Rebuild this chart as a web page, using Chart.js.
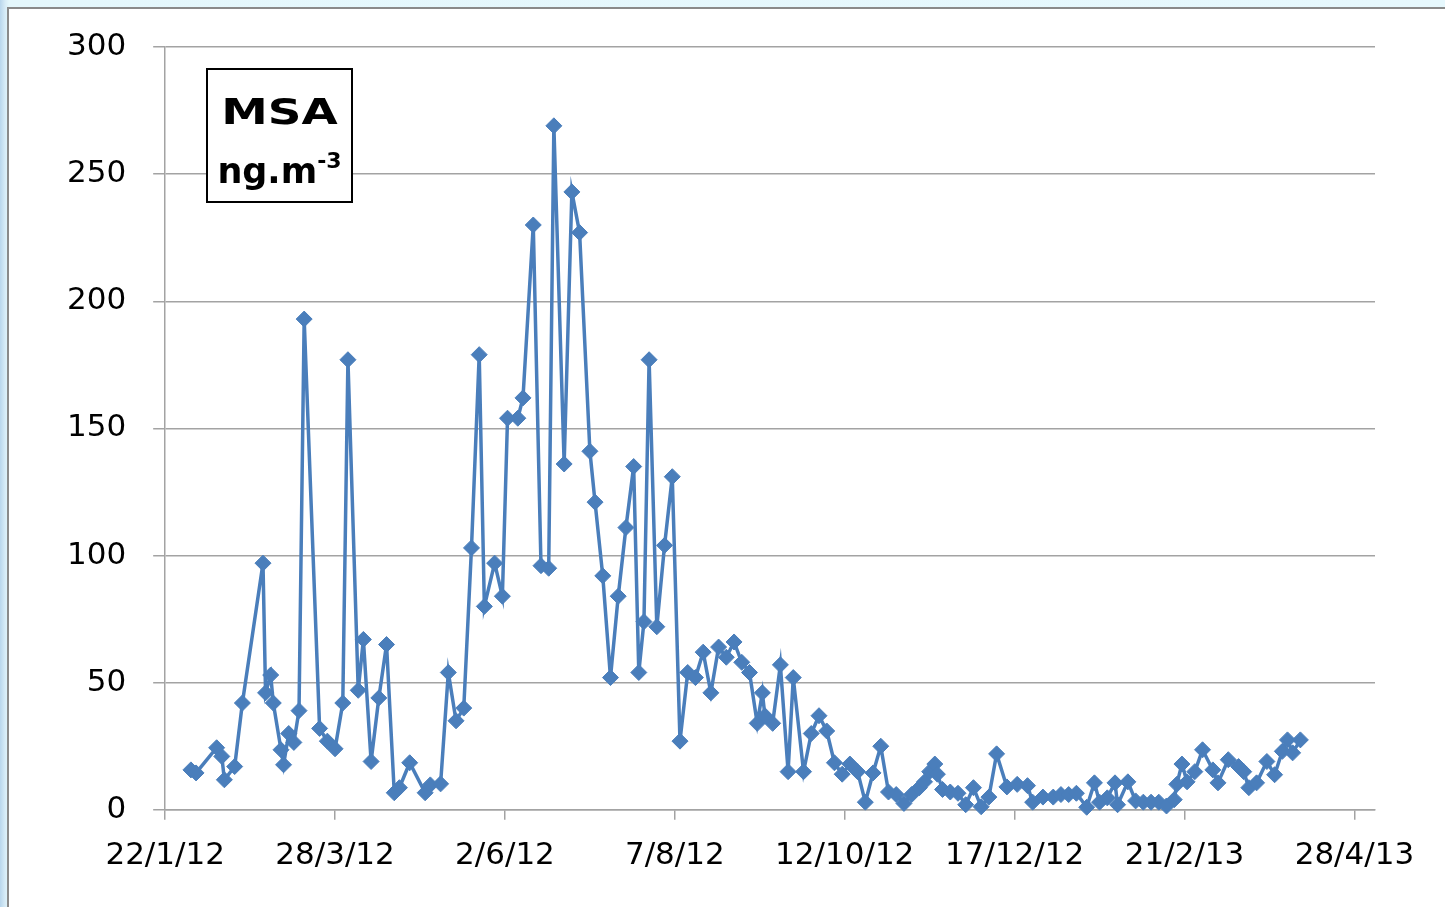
<!DOCTYPE html>
<html>
<head>
<meta charset="utf-8">
<script src="https://cdn.jsdelivr.net/npm/chart.js@4/dist/chart.umd.min.js"></script>
<style>
  html, body { margin: 0; padding: 0; }
  body {
    width: 1445px; height: 907px; overflow: hidden; position: relative;
    background: linear-gradient(to right, #b9d6ec 0px, #d6ebf6 5px, #e4f7fc 9px, #e6f8fd 100%);
  }
  #frame {
    position: absolute; left: 7px; top: 7px; width: 1450px; height: 910px;
    background: #ffffff; border: 2px solid #8a8a8a; box-sizing: border-box;
  }
  #chart { position: absolute; left: 0; top: 0; }
  #label {
    position: absolute; left: 206px; top: 68px; width: 147px; height: 135px;
    box-sizing: border-box; border: 2px solid #000; background: #fff;
    font-family: "DejaVu Sans", sans-serif; font-weight: bold; color: #000;
    text-align: center;
  }
  #label .l1 { position: absolute; left: 0; right: 0; top: 17px; font-size: 36px; line-height: 50px; transform: scaleX(1.3); }
  #label .l2 { position: absolute; left: 0; right: 0; top: 79px; font-size: 35px; line-height: 44px; }
  #label sup { font-size: 22px; vertical-align: 0.7em; line-height: 0; }
</style>
</head>
<body>
<div id="frame"></div>
<canvas id="chart" width="1445" height="907"></canvas>
<div id="label"><div class="l1">MSA</div><div class="l2">ng.m<sup>-3</sup></div></div>
<script>
// Sampling days, counted from 22/1/12
const dayOffsets = [
  10, 12, 20, 22, 23, 27, 30, 38, 39, 41,
  42, 45, 46, 48, 50, 52, 54, 60, 63, 66,
  69, 71, 75, 77, 80, 83, 86, 89, 91, 95,
  101, 103, 107, 110, 113, 116, 119, 122, 124, 128,
  131, 133, 137, 139, 143, 146, 149, 151, 155, 158,
  161, 165, 167, 170, 173, 176, 179, 182, 184, 186,
  188, 191, 194, 197, 200, 203, 206, 209, 212, 215,
  218, 221, 224, 227, 230, 232, 233, 236, 239, 242,
  244, 248, 251, 254, 257, 260, 263, 266, 269, 272,
  275, 278, 281, 284, 287, 290, 293, 295, 297, 299,
  300, 302, 305, 308, 311, 314, 317, 320, 323, 327,
  331, 335, 337, 341, 345, 348, 351, 354, 358, 361,
  363, 366, 369, 370, 374, 377, 380, 383, 386, 389,
  392, 393, 395, 397, 400, 403, 407, 409, 413, 417,
  419, 421, 424, 428, 431, 434, 436, 438, 441
];

// MSA concentration, ng.m-3
const msaValues = [
  15.7, 14.5, 24.4, 21, 11.8, 17, 42, 97, 46, 53,
  42, 23.6, 17.7, 30, 26.5, 39, 193, 32, 27, 24,
  42, 177, 47, 67, 19, 44, 65, 6.7, 8.7, 18.5,
  6.7, 9.8, 10.2, 54, 35, 40, 103, 179, 80, 97,
  84, 154, 154, 162, 230, 96, 95, 269, 136, 243,
  227, 141, 121, 92, 52, 84, 111, 135, 54, 74,
  177, 72, 104, 131, 27, 54, 52, 62, 46, 64,
  60, 66, 58, 54, 34, 46, 37, 34, 57, 15,
  52, 15, 30, 37, 31, 18.5, 14, 18, 15, 3,
  14.5, 25, 7, 6, 2.5, 6, 8.7, 11, 15, 18,
  14, 8, 7, 6.5, 2, 8.7, 1.2, 5, 22, 9,
  10, 9.5, 3, 5, 5, 6, 6, 6.5, 1, 10.6,
  3, 4.7, 10.6, 2, 11, 3.5, 3, 3, 3, 1.5,
  4, 10, 18, 11, 15, 23.6, 15.7, 10.6, 19.7, 17,
  15, 8.7, 10.6, 19, 13.8, 23, 27.5, 22.4, 27.5
];

// Date axis ticks (every 66 days)
const tickDays = [0, 66, 132, 198, 264, 330, 396, 462];
const tickLabels = ['22/1/12', '28/3/12', '2/6/12', '7/8/12', '12/10/12', '17/12/12', '21/2/13', '28/4/13'];

const yTicks = [0, 50, 100, 150, 200, 250, 300];

const lineBlue = '#4a7ebb';
const gridGrey = '#a3a3a3';
const axisFont = { family: '"DejaVu Sans", sans-serif', size: 31 };

new Chart(document.getElementById('chart'), {
  type: 'line',
  data: {
    datasets: [{
      data: dayOffsets.map((d, i) => ({ x: d, y: msaValues[i] })),
      borderColor: lineBlue,
      backgroundColor: lineBlue,
      borderWidth: 3.5,
      tension: 0,
      pointStyle: 'rectRot',
      pointRadius: 8,
      pointBorderWidth: 1,
      pointBackgroundColor: lineBlue,
      pointBorderColor: lineBlue,
      clip: false
    }]
  },
  options: {
    responsive: false,
    animation: false,
    events: [],
    layout: { padding: { left: 40, top: 47, right: 70, bottom: 14 } },
    plugins: { legend: { display: false }, tooltip: { enabled: false } },
    scales: {
      x: {
        type: 'linear',
        min: 0,
        max: 470,
        afterBuildTicks: (scale) => { scale.ticks = tickDays.map(v => ({ value: v })); },
        ticks: {
          autoSkip: false,
          maxRotation: 0,
          padding: 18,
          color: '#000',
          font: axisFont,
          callback: (v) => tickLabels[tickDays.indexOf(v)]
        },
        grid: { drawOnChartArea: false, drawTicks: true, tickLength: 10, color: gridGrey, lineWidth: 1.5 },
        border: { display: true, color: gridGrey, width: 1.5 }
      },
      y: {
        min: 0,
        max: 300,
        afterBuildTicks: (scale) => { scale.ticks = yTicks.map(v => ({ value: v })); },
        ticks: { padding: 27, color: '#000', font: axisFont },
        grid: { color: gridGrey, lineWidth: 1.5, tickLength: 12 },
        border: { display: true, color: gridGrey, width: 1.5 }
      }
    }
  }
});
</script>
</body>
</html>
